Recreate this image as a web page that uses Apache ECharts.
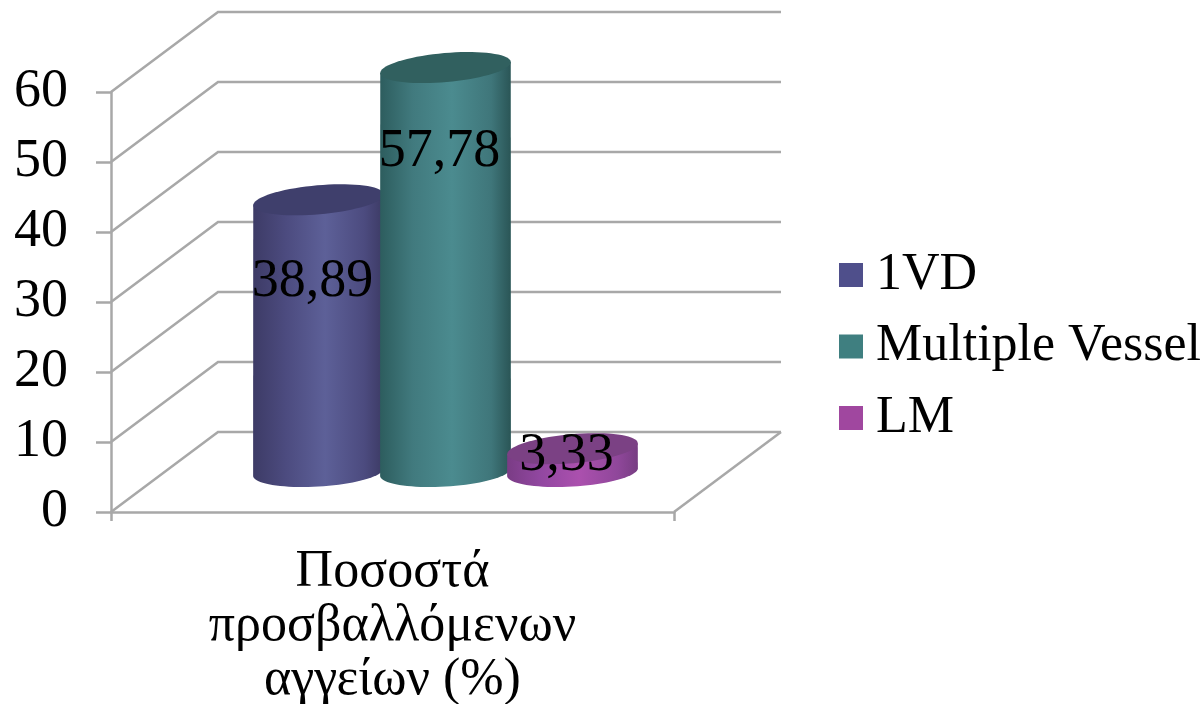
<!DOCTYPE html>
<html>
<head>
<meta charset="utf-8">
<style>
  html, body { margin: 0; padding: 0; background: #fff; }
  #chart { width: 1204px; height: 704px; }
</style>
<script src="https://cdn.jsdelivr.net/npm/echarts@6/dist/echarts.min.js"></script>
</head>
<body>
<div id="chart"></div>
<script>
// Share of affected vessels, drawn as cylinders standing on a box-shaped floor.
const categoryLabel = 'Ποσοστά\nπροσβαλλόμενων\nαγγείων (%)';
const seriesNames = ['1VD', 'Multiple Vessel', 'LM'];
const seriesValues = [38.89, 57.78, 3.33];
const yTicks = [0, 10, 20, 30, 40, 50, 60];

const legendColors = ['#4f4f8b', '#3f7f80', '#a0479f'];
const topColors = ['#3f3f6c', '#31605f', '#7b4184'];
const sideStops = [
  ['#3d3b66', '#4c4b7f', '#5d6098', '#4c4b7f', '#3c3a64'],
  ['#2d5d5e', '#417a7e', '#4b8b8f', '#3f767a', '#2a5556'],
  ['#7a3c85', '#9147a0', '#ab50ae', '#8f479a', '#773d82']
];

const FONT = '"Liberation Serif", serif';
const GRID_COLOR = '#a8a8a8';
const GRID_WIDTH = 2.5;
const DEPTH_X = 107;
const DEPTH_Y = -80;
const RX = 65.5;
const RY = 14.5;

// Outline of a tilted ellipse, plus the points where its sides are vertical.
function ellipsePoint(cx, cy, t, tilt) {
  const c = Math.cos(tilt), s = Math.sin(tilt);
  const ex = RX * Math.cos(t), ey = RY * Math.sin(t);
  return [cx + ex * c - ey * s, cy + ex * s + ey * c];
}
function ellipseOutline(cx, cy, tilt) {
  const pts = [];
  for (let i = 0; i < 72; i++) pts.push(ellipsePoint(cx, cy, i / 72 * Math.PI * 2, tilt));
  return pts;
}
function tangentAngle(tilt) {
  return Math.atan2(-RY * Math.sin(tilt), RX * Math.cos(tilt));
}

function renderCylinder(params, api) {
  const i = params.seriesIndex - 1;
  const value = api.value(1);
  const slot = api.value(0);
  const top = api.coord([slot, value]);
  const base = api.coord([slot, 0]);
  const h = base[1] - top[1];
  const topTilt = -5 * Math.PI / 180;
  const baseTilt = -3.5 * Math.PI / 180;
  const tBase = tangentAngle(baseTilt);
  const tTop = tangentAngle(topTilt);

  // Side wall: down the left tangent, along the front of the base, up the right.
  const side = [ellipsePoint(top[0], top[1], tTop + Math.PI, topTilt)];
  for (let k = 0; k <= 40; k++) {
    const t = tBase + Math.PI - (k / 40) * Math.PI;
    side.push(ellipsePoint(base[0], base[1], t, baseTilt));
  }
  side.push(ellipsePoint(top[0], top[1], tTop, topTilt));

  const stops = sideStops[i];
  const fill = new echarts.graphic.LinearGradient(0, 0, 1, 0, [
    { offset: 0, color: stops[0] },
    { offset: 0.25, color: stops[1] },
    { offset: 0.55, color: stops[2] },
    { offset: 0.85, color: stops[3] },
    { offset: 1, color: stops[4] }
  ]);

  return {
    type: 'group',
    children: [
      { type: 'polygon', shape: { points: side }, style: { fill: fill } },
      { type: 'polygon', shape: { points: ellipseOutline(top[0], top[1], topTilt) }, style: { fill: topColors[i] } },
      {
        type: 'text',
        z2: 100,
        style: {
          x: top[0] - 6,
          y: top[1] + Math.min(84, h * 0.3),
          text: value.toFixed(2).replace('.', ','),
          align: 'center',
          verticalAlign: 'middle',
          font: '54px ' + FONT,
          fill: '#000'
        }
      }
    ]
  };
}

// Side wall and back wall lines for one tick, running back from the y axis.
function renderWall(params, api) {
  const sys = params.coordSys;
  const value = api.value(0);
  const y = api.coord([0, value])[1];
  const lineStyle = { stroke: GRID_COLOR, lineWidth: GRID_WIDTH, fill: null };
  const right = sys.x + sys.width;
  const children = [{
    type: 'polyline',
    shape: { points: [[sys.x, y], [sys.x + DEPTH_X, y + DEPTH_Y], [right + DEPTH_X, y + DEPTH_Y]] },
    style: lineStyle
  }];
  if (value === 0) {
    children.push({
      type: 'line',
      shape: { x1: right + DEPTH_X, y1: y + DEPTH_Y, x2: right, y2: y },
      style: lineStyle
    });
  }
  return { type: 'group', children: children };
}

const cylinderSeries = seriesNames.map((name, i) => ({
  name: name,
  type: 'custom',
  coordinateSystem: 'cartesian2d',
  xAxisIndex: 1,
  yAxisIndex: 1,
  z: 3 + i,
  clip: false,
  itemStyle: { color: legendColors[i] },
  encode: { x: 0, y: 1 },
  data: [[name, seriesValues[i]]],
  renderItem: renderCylinder
}));

const chart = echarts.init(document.getElementById('chart'), null, { renderer: 'canvas' });
chart.setOption({
  animation: false,
  backgroundColor: '#fff',
  grid: [
    { left: 111, top: 92, width: 563, height: 420, outerBoundsMode: 'none' },
    { left: 255, top: 52, width: 381, height: 420, outerBoundsMode: 'none' }
  ],
  xAxis: [
    {
      type: 'category',
      gridIndex: 0,
      data: [categoryLabel],
      axisLine: { lineStyle: { color: GRID_COLOR, width: GRID_WIDTH } },
      axisTick: { show: true, length: 9, lineStyle: { color: GRID_COLOR, width: GRID_WIDTH } },
      axisLabel: {
        interval: 0,
        margin: 33,
        fontFamily: FONT,
        fontSize: 52,
        lineHeight: 54,
        color: '#000',
        align: 'center'
      }
    },
    { type: 'category', gridIndex: 1, show: false, data: seriesNames }
  ],
  yAxis: [
    {
      type: 'value',
      gridIndex: 0,
      min: 0,
      max: 60,
      interval: 10,
      splitLine: { show: false },
      axisLine: { show: true, lineStyle: { color: GRID_COLOR, width: GRID_WIDTH } },
      axisTick: { show: true, length: 15, lineStyle: { color: GRID_COLOR, width: GRID_WIDTH } },
      axisLabel: { margin: 43, padding: [8, 0, 0, 0], fontFamily: FONT, fontSize: 54, color: '#000' }
    },
    { type: 'value', gridIndex: 1, show: false, min: 0, max: 60, interval: 10 }
  ],
  legend: {
    orient: 'vertical',
    left: 839,
    top: 249,
    padding: 0,
    itemWidth: 24,
    itemHeight: 24,
    itemGap: 19.5,
    icon: 'rect',
    selectedMode: false,
    data: seriesNames,
    textStyle: { fontFamily: FONT, fontSize: 52, color: '#000', padding: [0, 0, 0, 8] }
  },
  series: [
    {
      type: 'custom',
      coordinateSystem: 'cartesian2d',
      xAxisIndex: 0,
      yAxisIndex: 0,
      z: 1,
      clip: false,
      silent: true,
      encode: { y: 0 },
      data: yTicks.map(v => [v]),
      renderItem: renderWall
    },
    ...cylinderSeries
  ]
});
</script>
</body>
</html>
